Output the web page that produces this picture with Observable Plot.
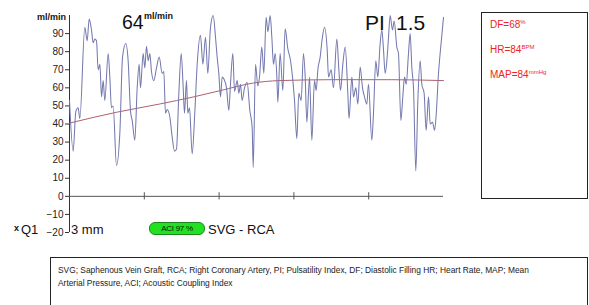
<!DOCTYPE html>
<html>
<head>
<meta charset="utf-8">
<script src="https://cdn.jsdelivr.net/npm/d3@7"></script>
<script src="https://cdn.jsdelivr.net/npm/@observablehq/plot@0.6"></script>
<style>
  html, body { margin: 0; padding: 0; background: #fff; }
  #wrap { position: relative; width: 589px; height: 305px; overflow: hidden; font-family: "Liberation Sans", Arial, sans-serif; }
  #wrap svg { position: absolute; left: 0; top: 0; }
  .t { position: absolute; white-space: nowrap; line-height: 1; }
  .red { color: #ee2424; font-size: 10px; }
  .red sup { font-size: 6px; vertical-align: 4px; line-height: 0; }
</style>
</head>
<body>
<div id="wrap"></div>
<script>
// Flow waveform (time in s, flow in ml/min)
const time = [
  0, 0.049, 0.085, 0.116, 0.138, 0.205, 0.236, 0.263, 0.294, 0.316,
  0.339, 0.361, 0.383, 0.406, 0.428, 0.450, 0.472, 0.517, 0.539, 0.561,
  0.584, 0.628, 0.673, 0.709, 0.753, 0.784, 0.816, 0.838, 0.873, 0.905,
  0.931, 0.949, 0.985, 1.007, 1.029, 1.052, 1.074, 1.096, 1.127, 1.163,
  1.199, 1.239, 1.261, 1.283, 1.306, 1.341, 1.372, 1.404, 1.430, 1.462,
  1.493, 1.520, 1.537, 1.564, 1.582, 1.604, 1.640, 1.676, 1.707, 1.751,
  1.783, 1.818, 1.849, 1.885, 1.921, 1.952, 1.974, 1.996, 2.019, 2.041,
  2.063, 2.099, 2.130, 2.152, 2.184, 2.206, 2.242, 2.264, 2.286, 2.308,
  2.340, 2.375, 2.411, 2.442, 2.456, 2.487, 2.518, 2.540, 2.571, 2.598,
  2.629, 2.652, 2.683, 2.705, 2.727, 2.750, 2.772, 2.785, 2.816, 2.852,
  2.883, 2.919, 2.955, 2.986, 3.008, 3.039, 3.066, 3.097, 3.128, 3.151,
  3.173, 3.209, 3.240, 3.275, 3.298, 3.320, 3.351, 3.378, 3.409, 3.445,
  3.463, 3.498, 3.529, 3.574, 3.601, 3.623, 3.654, 3.686, 3.721, 3.737,
  3.775, 3.797, 3.828, 3.855, 3.886, 3.917, 3.944, 3.975, 3.997, 4.042,
  4.064, 4.095, 4.122, 4.153, 4.176, 4.198, 4.220, 4.243, 4.265, 4.287,
  4.318, 4.341, 4.376, 4.398, 4.430, 4.456, 4.479, 4.501, 4.532, 4.554,
  4.577, 4.599, 4.630, 4.657, 4.688, 4.710, 4.741, 4.768, 4.800, 4.822,
  4.853, 4.880, 4.902, 4.933, 4.955, 5.000
];
const flow = [
  53, 25, 47, 49, 43, 93.5, 86, 98, 92, 85,
  87, 86, 70, 73, 55, 64, 53, 79, 66, 49,
  50, 17, 35, 77, 84.5, 75, 47, 42, 31, 60,
  73, 60, 79, 71, 83, 75, 79, 69, 64, 71,
  77, 68, 69, 46, 48, 44, 33, 25, 26, 57,
  79, 60, 46, 64, 46, 49, 23.5, 47, 73, 89,
  73, 88, 68, 93.5, 100, 88, 77, 68, 55, 66,
  65, 60, 47.5, 62, 79, 58, 64, 57, 62, 53,
  60, 63, 47.5, 38, 16, 73, 61, 66, 82.5, 68,
  99, 91, 100, 88, 73, 79, 66, 52, 79, 58.5,
  92.6, 81.6, 75, 64, 53, 32, 57, 53, 79, 66,
  41, 66, 31, 64, 58.5, 70, 77, 87, 93.5, 81,
  66, 70, 60, 87, 70, 58.5, 73, 82.5, 57, 43,
  66, 55, 60, 51, 71.5, 60, 55, 51, 62, 31,
  46, 75, 66, 84.5, 92, 81, 68, 75, 88, 100,
  92, 97, 82.5, 79, 42, 55, 66, 62, 79, 90,
  71, 60, 14, 53, 75, 62, 57, 36.5, 55, 40,
  41, 36.5, 45, 68, 79, 99
];
// Running mean flow
const meanTime = [0, 0.63, 1.2, 1.66, 2.02, 2.45, 2.8, 3.5, 4.3, 5];
const meanFlow = [40.5, 46.5, 51, 55, 58.5, 62.6, 64, 64.5, 64.5, 64];
// Axis ticks
const yTicks = [-20, -10, 0, 10, 20, 30, 40, 50, 60, 70, 80, 90];
const xTicks = [1, 2, 3, 4];
// Readouts
const meanValue = "64";
const unit = "ml/min";
const piValue = "1.5";
const readouts = [
  {label: "DF=68", sup: "%"},
  {label: "HR=84", sup: "BPM"},
  {label: "MAP=84", sup: "mmHg"}
];
const probe = "3 mm";
const aci = "ACI 97 %";
const vessel = "SVG - RCA";
const footnote1 = "SVG; Saphenous Vein Graft, RCA; Right Coronary Artery, PI; Pulsatility Index, DF; Diastolic Filling HR; Heart Rate, MAP; Mean";
const footnote2 = "Arterial Pressure, ACI; Acoustic Coupling Index";

const wave = time.map((t, i) => ({t, v: flow[i]}));
const mean = meanTime.map((t, i) => ({t, v: meanFlow[i]}));

const chart = Plot.plot({
  width: 589,
  height: 305,
  marginLeft: 69,
  marginRight: 146,
  marginTop: 15,
  marginBottom: 73,
  style: {fontFamily: "Liberation Sans, Arial, sans-serif", fontSize: "10px", color: "#222", background: "transparent"},
  x: {domain: [0, 5], axis: null},
  y: {domain: [-20, 100]},
  marks: [
    Plot.axisY({ticks: yTicks, tickSize: 4, tickPadding: 2, label: null, stroke: "#333"}),
    Plot.ruleX([0], {stroke: "#333"}),
    Plot.ruleY([0], {stroke: "#555"}),
    Plot.ruleX(xTicks, {y1: -2, y2: 2, stroke: "#555"}),
    Plot.line(mean, {x: "t", y: "v", stroke: "#b0606c", strokeWidth: 1, curve: "monotone-x"}),
    Plot.line(wave, {x: "t", y: "v", stroke: "#7479ae", strokeWidth: 1.05, curve: "monotone-x"})
  ]
});
const wrap = document.getElementById("wrap");
wrap.appendChild(chart);

function add(html, style, cls = "t") {
  const d = document.createElement("div");
  d.className = cls;
  d.innerHTML = html;
  Object.assign(d.style, style);
  wrap.appendChild(d);
  return d;
}
// unit over axis
add(unit, {right: (589 - 66) + "px", top: "12.5px", fontSize: "9px", fontWeight: "bold", color: "#111"});
// mean flow
add(meanValue, {left: "122px", top: "12.5px", fontSize: "19.5px", color: "#111"});
add(unit, {left: "144px", top: "12px", fontSize: "9px", fontWeight: "bold", color: "#111"});
// PI
add("PI", {left: "365px", top: "12px", fontSize: "21px", color: "#111"});
add(piValue, {left: "396px", top: "12px", fontSize: "21px", color: "#111"});
// right box
add("", {left: "481px", top: "12px", width: "105px", height: "185px", border: "1px solid #222"});
readouts.forEach((r, i) => {
  add(r.label + "<sup>" + r.sup + "</sup>", {left: "490px", top: (19.5 + i * 25) + "px"}, "t red");
});
// bottom row
add("x", {left: "14px", top: "224px", fontSize: "9px", fontWeight: "bold", color: "#111"});
add("Q1", {left: "21px", top: "222.5px", fontSize: "13px", color: "#111"});
add(probe, {left: "71px", top: "222.5px", fontSize: "13px", color: "#111"});
add(aci, {left: "149px", top: "222px", width: "54px", height: "11px", background: "#22e022", border: "1px solid #1a8a1a", borderRadius: "6px", fontSize: "8px", color: "#111", textAlign: "center", lineHeight: "11px", letterSpacing: "-0.3px"});
add(vessel, {left: "208px", top: "222.5px", fontSize: "13px", color: "#111"});
// footnote box
add("", {left: "50px", top: "257px", width: "536px", height: "60px", border: "1px solid #222"});
add(footnote1, {left: "58px", top: "265.5px", fontSize: "8.4px", color: "#222"});
add(footnote2, {left: "58px", top: "278.5px", fontSize: "8.4px", color: "#222"});
</script>
</body>
</html>
